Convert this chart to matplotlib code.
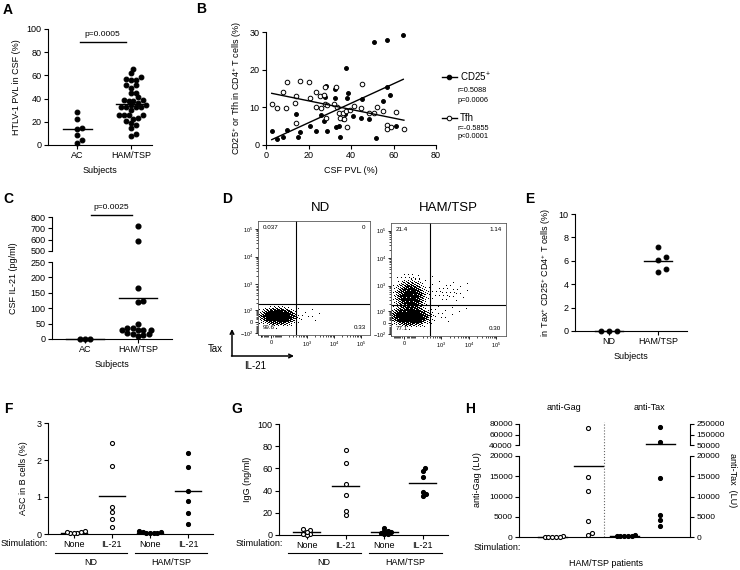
import numpy as np
import matplotlib
matplotlib.use('Agg')
from matplotlib import pyplot as plt
from matplotlib.lines import Line2D
import matplotlib.transforms as mtransforms

# ---------------- data ----------------
# A: HTLV-1 PVL in CSF (%)
a_groups = ['AC', 'HAM/TSP']
a_ac = [28.3, 22.0, 14.0, 15.0, 8.7, 4.6, 1.7]
a_ham = [65.3, 61.8, 59.0, 57.0, 55.8, 55.8, 51.7, 51.7, 48.8, 45.0, 44.5, 41.0,
         38.7, 38.0, 38.0, 38.7, 35.8, 34.4, 34.4, 32.4, 32.4, 32.4, 33.0, 30.0,
         25.7, 25.7, 25.7, 25.7, 23.7, 22.8, 20.5, 19.0, 17.6, 15.0, 9.2, 7.5]
a_center = [13.6, 35.5]

# B: CSF PVL vs CD25+ / Tfh
cd25_x = [2.7, 5.2, 7.8, 9.7, 14.1, 14.9, 16.0, 20.9, 23.5, 25.7, 27.5, 27.9,
          28.4, 28.5, 32.8, 32.6, 32.5, 34.2, 34.6, 36.4, 37.3, 37.8, 37.9, 38.7,
          40.8, 44.7, 45.3, 48.3, 51.0, 51.8, 55.0, 56.8, 57.1, 58.3, 61.3, 64.6]
cd25_y = [3.8, 1.7, 2.2, 4.0, 8.1, 2.0, 3.5, 5.1, 3.7, 8.0, 6.5, 12.7,
          15.7, 3.7, 4.9, 12.6, 14.9, 5.1, 2.0, 6.8, 8.2, 20.5, 12.6, 13.8,
          7.7, 7.1, 12.2, 6.8, 27.4, 1.8, 11.7, 15.4, 27.8, 13.2, 5.1, 29.3]
tfh_x = [2.7, 5.3, 7.8, 9.3, 9.9, 13.6, 14.1, 13.9, 16.0, 20.1, 20.6, 23.7,
         23.7, 25.6, 25.7, 27.6, 27.4, 27.6, 28.2, 28.8, 32.2, 32.9, 33.3, 34.2,
         34.8, 36.1, 36.7, 37.8, 37.9, 39.4, 41.4, 45.2, 44.7, 48.3, 52.1, 51.0,
         55.2, 56.9, 56.8, 58.8, 61.3, 64.9]
tfh_y = [11.0, 9.7, 14.2, 9.7, 16.6, 11.2, 13.0, 5.9, 17.1, 16.8, 12.6, 14.2,
         10.2, 13.0, 9.9, 15.4, 13.4, 10.8, 7.1, 10.5, 11.0, 15.3, 10.0, 8.6,
         7.1, 8.4, 6.8, 9.1, 4.9, 9.3, 10.4, 16.3, 9.7, 8.6, 10.0, 8.6,
         9.0, 5.2, 4.3, 4.7, 8.8, 4.3]

# C: CSF IL-21 (pg/ml)
c_ac = [0, 0, 0]
c_ham = [720, 585, 167, 123, 121, 49, 37, 35, 30, 30, 30, 28, 19, 16, 16, 13, 11]
c_center = [0, 132]

# D: flow populations (centre x, centre y, spread x, spread y, density) in display units
d_nd_pops = [(0.6, 0.41, 0.6, 0.27, 14.0), (3.3, 0.5, 1.0, 0.35, 0.03)]
d_ham_pops = [(0.5, 0.5, 0.62, 0.3, 14.0), (0.5, 2.2, 0.55, 0.6, 4.0),
              (3.6, 2.5, 1.0, 0.5, 0.08), (3.0, 0.7, 0.9, 0.35, 0.05)]
d_nd_quads = ['0.037', '0', '99.6', '0.33']
d_ham_quads = ['21.4', '1.14', '77.1', '0.30']

# E
e_groups = ['ND', 'HAM/TSP']
e_nd = [0, 0, 0]
e_ham = [7.2, 6.3, 6.06, 5.3, 5.06]
e_center = [0, 6.0]

# F / G / H
stim = ['None', 'IL-21', 'None', 'IL-21']
f_vals = [[0.04, 0.06, 0.03, 0.07, 0.05, 0.02],
          [2.46, 1.84, 0.74, 0.59, 0.41, 0.20],
          [0.03, 0.05, 0.02, 0.08, 0.04, 0.03, 0.06],
          [2.20, 1.80, 1.17, 0.88, 0.56, 0.27]]
f_center = [0.04, 1.04, 0.04, 1.15]
g_vals = [[4.5, 5.1, 0.6, 0.0, 1.0, 3.0],
          [76.8, 64.5, 46.0, 36.0, 18.0, 21.4],
          [6.6, 3.6, 0.6, 0.6, 3.6, 3.0, 1.5],
          [58.0, 60.5, 52.0, 38.9, 35.2, 36.7]]
g_center = [2.4, 43.7, 2.4, 46.7]
h_gag = [[150, 80, 40, 120, 60, 20], [73000, 14815, 11360, 4030, 576, 988]]
h_tax = [[350, 200, 420, 150, 300, 250], [221000, 75400, 14650, 5514, 4280, 2634]]
h_gag_center = [60, 17450]
h_tax_center = [250, 59500]

# ---------------- style ----------------
plt.rcParams['font.family'] = ['Liberation Sans', 'DejaVu Sans']
plt.rcParams['mathtext.fontset'] = 'custom'
plt.rcParams['mathtext.rm'] = 'Liberation Sans'
plt.rcParams['mathtext.it'] = 'Liberation Sans:italic'
plt.rcParams['mathtext.bf'] = 'Liberation Sans:bold'
plt.rcParams['font.size'] = 6.5
plt.rcParams['axes.linewidth'] = 0.8

W, H = 740, 570
fig = plt.figure(figsize=(7.4, 5.7), dpi=100)


def box(l, t, r, b):
    return fig.add_axes([l / W, 1 - b / H, (r - l) / W, (b - t) / H])


def style(ax, left=True, bottom=True, right=False):
    for s in ['top', 'right', 'left', 'bottom']:
        ax.spines[s].set_visible(False)
    ax.spines['left'].set_visible(left)
    ax.spines['bottom'].set_visible(bottom)
    ax.spines['right'].set_visible(right)
    ax.tick_params(length=3, width=0.8, pad=1.5, labelsize=6.5)
    if not bottom:
        ax.tick_params(axis='x', bottom=False, labelbottom=False)
    ax.patch.set_alpha(0)


def letter(x, y, s):
    fig.text(x / W, 1 - y / H, s, fontsize=10, weight='bold', ha='center', va='center')


def ftext(x, y, s, **kw):
    fig.text(x / W, 1 - y / H, s, ha=kw.pop('ha', 'center'), va=kw.pop('va', 'center'), **kw)


def swarm(ypx, xunit_px, d):
    # simple beeswarm: x offsets (data units) so markers do not overlap
    ypx = np.asarray(ypx, float)
    placed = []
    offs = np.zeros(len(ypx))
    step = d * 0.55
    for i in np.argsort(ypx):
        k = 0
        while True:
            cand = 0.0 if k == 0 else ((k + 1) // 2) * step * (1 if k % 2 else -1)
            if all((cand - px) ** 2 + (ypx[i] - py) ** 2 >= d ** 2 for px, py in placed):
                break
            k += 1
        placed.append((cand, ypx[i]))
        offs[i] = cand / xunit_px
    return offs


def dots(ax, xc, vals, ypx, xunit_px, filled=True, ms=3.4, d=None):
    offs = swarm(ypx, xunit_px, d or ms / 0.72)
    mfc = 'k' if filled else 'white'
    ax.plot(xc + offs, vals, 'o', ms=ms, mfc=mfc, mec='k', mew=0.8, ls='none', clip_on=False, zorder=3)


def center_line(ax, xc, y, hw):
    ax.plot([xc - hw, xc + hw], [y, y], 'k', lw=1.0, zorder=2, clip_on=False)


# ---------------- A ----------------
axA = box(48, 29, 152, 145)
style(axA)
axA.set_xlim(-0.54, 1.39)
axA.set_ylim(0, 100)
axA.set_yticks(range(0, 101, 20))
pxA = 116 / 100
for i, vals in enumerate([a_ac, a_ham]):
    dots(axA, i, vals, np.array(vals) * pxA, 54, ms=3.4, d=4.5)
    center_line(axA, i, a_center[i], 0.27)
axA.set_xticks([0, 1])
axA.set_xticklabels(a_groups)
axA.set_xlabel('Subjects', labelpad=4)
axA.set_ylabel('HTLV-1 PVL in CSF (%)', labelpad=4)
axA.plot([0.05, 0.9], [89, 89], 'k', lw=1)
axA.text(0.475, 92, 'p=0.0005', ha='center', va='bottom', fontsize=6)
letter(8, 10, 'A')

# ---------------- B ----------------
axB = box(266, 32, 436, 145)
style(axB)
axB.set_xlim(0, 80)
axB.set_ylim(0, 30)
axB.set_xticks(range(0, 81, 20))
axB.set_yticks(range(0, 31, 10))
axB.plot(cd25_x, cd25_y, 'o', ms=2.8, mfc='k', mec='k', mew=0.7, ls='none', clip_on=False)
axB.plot(tfh_x, tfh_y, 'o', ms=3.3, mfc='white', mec='k', mew=0.7, ls='none', clip_on=False)
for xs, ys in [(cd25_x, cd25_y), (tfh_x, tfh_y)]:
    k, b0 = np.polyfit(xs, ys, 1)
    xx = np.array([min(xs), max(xs)])
    axB.plot(xx, k * xx + b0, 'k', lw=1)
axB.set_xlabel('CSF PVL (%)', labelpad=4)
axB.set_ylabel('CD25$^{+}$ or Tfh in CD4$^{+}$ T cells (%)', labelpad=4)
for y, mfc, lab in [(77, 'k', 'CD25$^{+}$'), (118, 'white', 'Tfh')]:
    fig.add_artist(Line2D(np.array([442, 448.5, 457]) / W, [1 - y / H] * 3, color='k', lw=1,
                          marker='o', markevery=[1], ms=3.3, mfc=mfc, mec='k', mew=0.7))
    ftext(460, y, lab, ha='left', fontsize=7)
ftext(458, 90, 'r=0.5088', ha='left', fontsize=5.3)
ftext(458, 100, 'p=0.0006', ha='left', fontsize=5.3)
ftext(458, 128, 'r=-0.5855', ha='left', fontsize=5.3)
ftext(458, 137, 'p<0.0001', ha='left', fontsize=5.3)
letter(201, 9, 'B')

# ---------------- C ----------------
axCu = box(52, 217, 172, 251)
axCl = box(52, 262, 172, 339)
style(axCu, bottom=False)
style(axCl)
for ax in (axCu, axCl):
    ax.set_xlim(-0.62, 1.64)
axCu.set_ylim(500, 800)
axCu.set_yticks(range(500, 801, 100))
axCl.set_ylim(0, 250)
axCl.set_yticks(range(0, 251, 50))
for i, vals in enumerate([c_ac, c_ham]):
    vals = np.array(vals, float)
    ypx = np.where(vals <= 250, vals * 77 / 250, 88 + (vals - 500) * 34 / 300)
    offs = swarm(ypx, 53, 4.8)
    lo = vals <= 250
    axCl.plot(i + offs[lo], vals[lo], 'o', ms=3.4, color='k', ls='none', clip_on=False, zorder=3)
    axCu.plot(i + offs[~lo], vals[~lo], 'o', ms=3.4, color='k', ls='none', clip_on=False, zorder=3)
    center_line(axCl, i, c_center[i], 0.36)
axCl.set_xticks([0, 1])
axCl.set_xticklabels(a_groups)
axCl.set_xlabel('Subjects', labelpad=4)
ftext(14, 278, 'CSF IL-21 (pg/ml)', rotation=90, fontsize=6.5)
axCu.plot([0.11, 0.89], [818, 818], 'k', lw=1, clip_on=False)
axCu.text(0.5, 888, 'p=0.0025', ha='center', va='center', fontsize=6)
letter(8, 199, 'C')


# ---------------- D ----------------
def biex(v, c=90.0):
    return np.arcsinh(np.asarray(v, float) / c)


def flow(ax, pops, quads, npx):
    xl, yl = (-1.1, 8.5), (-1.1, 8.35)
    xs = np.linspace(*xl, npx[0])
    ys = np.linspace(*yl, npx[1])
    X, Y = np.meshgrid(xs, ys)
    dens = np.zeros_like(X)
    for cx, cy, sx, sy, w in pops:
        dens += w * np.exp(-0.5 * (((X - cx) / sx) ** 2 + ((Y - cy) / sy) ** 2))
    cover = 1 - np.exp(-dens)
    ii, jj = np.meshgrid(np.arange(X.shape[1]), np.arange(X.shape[0]))
    thr = np.mod(ii * 0.7548776662 + jj * 0.5698402910, 1.0)  # R2 ordered dither
    ax.imshow((cover > thr).astype(float), cmap='gray_r', origin='lower', extent=xl + yl,
              aspect='auto', interpolation='nearest', vmin=0, vmax=1)
    ax.set_xlim(*xl)
    ax.set_ylim(*yl)
    ax.axvline(biex(380), color='k', lw=0.8)
    ax.axhline(biex(186), color='k', lw=0.8)
    ax.set_xticks(biex([0, 1e3, 1e4, 1e5]))
    ax.set_xticklabels(['0', '$10^3$', '$10^4$', '$10^5$'])
    ax.set_yticks(biex([-1e2, 0, 1e2, 1e3, 1e4, 1e5]))
    ax.set_yticklabels(['$-10^2$', '0', '$10^2$', '$10^3$', '$10^4$', '$10^5$'])
    minor = [k * 10 ** n for n in range(1, 5) for k in range(2, 10)]
    ax.set_xticks(biex(minor + [-v for v in minor if v < 100]), minor=True)
    ax.set_yticks(biex(minor + [-v for v in minor if v < 100]), minor=True)
    ax.tick_params(which='major', length=2.5, width=0.6, pad=1, labelsize=4)
    ax.tick_params(which='minor', length=1.5, width=0.5)
    for s in ax.spines.values():
        s.set_linewidth(0.6)
        s.set_color('0.35')
    for (x, y, ha, va), s in zip([(0.04, 0.94, 'left', 'center'), (0.96, 0.94, 'right', 'center'),
                                  (0.04, 0.07, 'left', 'center'), (0.96, 0.07, 'right', 'center')], quads):
        ax.text(x, y, s, transform=ax.transAxes, ha=ha, va=va, fontsize=4.5, zorder=5)


axD1 = box(258, 221, 370, 335)
axD2 = box(391, 223, 506, 336)
flow(axD1, d_nd_pops, d_nd_quads, (112, 114))
flow(axD2, d_ham_pops, d_ham_quads, (115, 113))
ftext(320, 208, 'ND', fontsize=9.5)
ftext(448, 208, 'HAM/TSP', fontsize=9.5)
axD1.annotate('', xy=(232 / W, 1 - 329 / H), xytext=(232 / W, 1 - 356 / H), xycoords='figure fraction',
              arrowprops=dict(arrowstyle='->', lw=1.1, color='k', shrinkA=0, shrinkB=0), annotation_clip=False)
axD1.annotate('', xy=(294 / W, 1 - 356 / H), xytext=(231.5 / W, 1 - 356 / H), xycoords='figure fraction',
              arrowprops=dict(arrowstyle='->', lw=1.1, color='k', shrinkA=0, shrinkB=0), annotation_clip=False)
ftext(215, 349, 'Tax', fontsize=7)
ftext(255, 366, 'IL-21', fontsize=7)
letter(227, 199, 'D')

# ---------------- E ----------------
axE = box(575, 214, 687, 331)
style(axE)
axE.set_xlim(-0.69, 1.59)
axE.set_ylim(0, 10)
axE.set_yticks(range(0, 11, 2))
for i, vals in enumerate([e_nd, e_ham]):
    dots(axE, i, vals, np.array(vals) * 11.7, 49, ms=3.4, d=7)
    center_line(axE, i, e_center[i], 0.29)
axE.set_xticks([0, 1])
axE.set_xticklabels(e_groups)
axE.set_xlabel('Subjects', labelpad=4)
axE.set_ylabel('in Tax$^{+}$ CD25$^{+}$ CD4$^{+}$ T cells (%)', labelpad=4)
letter(530, 199, 'E')


# ---------------- F / G ----------------
def stim_panel(ax, vals_all, centers, ylim, yticks, pxunit, xunit, stim_x, gy, ty, ly):
    style(ax)
    ax.set_xlim(*xunit[1])
    ax.set_ylim(*ylim)
    ax.set_yticks(yticks)
    for i, vals in enumerate(vals_all):
        dots(ax, i, vals, np.array(vals) * pxunit, xunit[0], filled=i >= 2, ms=2.9, d=3.3)
        center_line(ax, i, centers[i], 0.35)
    ax.set_xticks(range(4))
    ax.set_xticklabels(stim)
    trans = mtransforms.blended_transform_factory(ax.transData, ax.transAxes)
    for x0, x1, lab in [(-0.5, 1.4, 'ND'), (1.6, 3.5, 'HAM/TSP')]:
        ax.plot([x0, x1], [gy, gy], 'k', lw=0.8, transform=trans, clip_on=False)
        ax.text((x0 + x1) / 2, ty, lab, transform=trans, ha='center', va='center', fontsize=6.5)
    ftext(stim_x, ly, 'Stimulation:', ha='left', fontsize=6.5)


axF = box(48, 423, 213, 534)
stim_panel(axF, f_vals, f_center, (0, 3), [0, 1, 2, 3], 111 / 3, (38, (-0.68, 3.66)), 1, -0.17, -0.26, 544)
axF.set_ylabel('ASC in B cells (%)', labelpad=6)
letter(8, 409, 'F')

axG = box(279, 424, 448, 535)
stim_panel(axG, g_vals, g_center, (0, 100), range(0, 101, 20), 1.11, (38.7, (-0.72, 3.65)), 236, -0.16, -0.25, 544)
axG.set_ylabel('IgG (ng/ml)', labelpad=4)
letter(237, 409, 'G')

# ---------------- H ----------------
axHu = box(519, 424, 690, 445)
axHl = box(519, 456, 690, 537)
style(axHu, bottom=False)
style(axHl)
axHur = axHu.twinx()
axHlr = axHl.twinx()
style(axHur, left=False, bottom=False, right=True)
style(axHlr, left=False, bottom=True, right=True)
axHlr.spines['bottom'].set_visible(False)
for ax in (axHu, axHl, axHur, axHlr):
    ax.set_xlim(-0.92, 3.83)
    ax.tick_params(labelsize=6)
axHu.set_ylim(40000, 80000)
axHu.set_yticks([40000, 60000, 80000])
axHur.set_ylim(50000, 250000)
axHur.set_yticks([50000, 150000, 250000])
for ax in (axHl, axHlr):
    ax.set_ylim(0, 20000)
    ax.set_yticks(range(0, 20001, 5000))
for ax in (axHu, axHl, axHur, axHlr):
    ax.set_yticklabels([str(int(t)) for t in ax.get_yticks()])

for j, (series, centers, up_lo, up_hi, lo_ax, up_ax) in enumerate(
        [(h_gag, h_gag_center, 40000, 80000, axHl, axHu),
         (h_tax, h_tax_center, 50000, 250000, axHlr, axHur)]):
    for k, vals in enumerate(series):
        xc = 2 * j + k
        vals = np.array(vals, float)
        ypx = np.where(vals <= 20000, vals * 81 / 20000, 92 + (vals - up_lo) * 21 / (up_hi - up_lo))
        offs = swarm(ypx, 36, 3.4)
        lo = vals <= 20000
        mfc = 'white' if j == 0 else 'k'
        for ax, m in [(lo_ax, lo), (up_ax, ~lo)]:
            ax.plot(xc + offs[m], vals[m], 'o', ms=2.9, mfc=mfc, mec='k', mew=0.8, ls='none',
                    clip_on=False, zorder=3)
        c = centers[k]
        center_line(lo_ax if c <= 20000 else up_ax, xc, c, 0.4)
axHl.set_xticks(range(4))
axHl.set_xticklabels(stim)
axHlr.set_xticks([])
trans = mtransforms.blended_transform_factory(axHl.transData, axHl.transAxes)
axHl.plot([1.45, 1.45], [0, 1.42], color='0.4', lw=0.8, ls=':', transform=trans, clip_on=False)
ftext(477, 480, 'anti-Gag (LU)', rotation=90, fontsize=6.5)
ftext(733, 480, 'anti-Tax  (LU)', rotation=-90, fontsize=6.5)
ftext(564, 408, 'anti-Gag', fontsize=6.5)
ftext(649, 408, 'anti-Tax', fontsize=6.5)
ftext(474, 547, 'Stimulation:', ha='left', fontsize=6.5)
ftext(606, 563, 'HAM/TSP patients', fontsize=6.5)
letter(470, 409, 'H')

fig.savefig('out.png', dpi=100)
